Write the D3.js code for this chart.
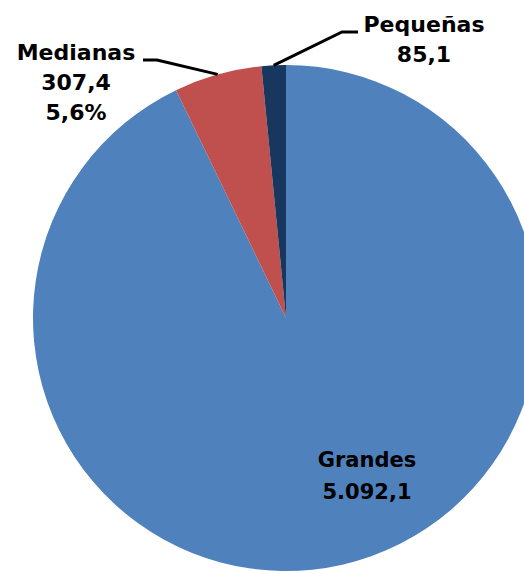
<!DOCTYPE html>
<html><head><meta charset="utf-8">
<script src="https://cdn.jsdelivr.net/npm/d3@7"></script>
<style>html,body{margin:0;padding:0;background:#fff;overflow:hidden}</style>
</head><body>
<svg id="c" width="524" height="572"></svg>
<script>
const categories = ["Grandes", "Medianas", "Pequeñas"];
const values = [5092.1, 307.4, 85.1];
const valueLabels = ["5.092,1", "307,4", "85,1"];
const percentLabels = ["", "5,6%", ""];
const colors = ["#4F81BD", "#C0504D", "#17375E"];

const svg = d3.select("#c");
const cx = 286, cy = 318, R = 253;
const g = svg.append("g").attr("transform", `translate(${cx},${cy})`);

const data = categories.map((c, i) => ({cat: c, value: values[i], vl: valueLabels[i], pl: percentLabels[i], color: colors[i]}));
const pie = d3.pie().value(d => d.value).sort(null);
const arcs = pie(data);
const arc = d3.arc().innerRadius(0).outerRadius(R);

g.selectAll("path").data(arcs).join("path")
  .attr("d", arc).attr("fill", d => d.data.color);

const font = "'DejaVu Sans', Verdana, sans-serif";
function label(lines, x, y, lh, size) {
  const t = svg.append("text").attr("text-anchor", "middle")
    .attr("font-family", font).attr("font-weight", "bold")
    .attr("font-size", size).attr("fill", "#000");
  lines.forEach((l, i) => t.append("tspan").attr("x", x).attr("y", y + i * lh).text(l));
}

// Grandes label inside
const a0 = arcs[0];
label([a0.data.cat, a0.data.vl], 367, 467, 32, 21);

// outer point on slice mid-angle
function outerPt(a) {
  const m = (a.startAngle + a.endAngle) / 2;
  return [cx + R * Math.sin(m), cy - R * Math.cos(m)];
}

// Medianas leader and label
const a1 = arcs[1];
const p1 = outerPt(a1);
svg.append("polyline").attr("points", [p1, [157, 60], [143, 60]].map(p => p.join(",")).join(" "))
  .attr("fill", "none").attr("stroke", "#000").attr("stroke-width", 3);
label([a1.data.cat, a1.data.vl, a1.data.pl], 76, 60, 30, 22);

// Pequeñas leader and label
const a2 = arcs[2];
const p2 = outerPt(a2);
svg.append("polyline").attr("points", [p2, [342, 32], [358, 32]].map(p => p.join(",")).join(" "))
  .attr("fill", "none").attr("stroke", "#000").attr("stroke-width", 3);
label([a2.data.cat, a2.data.vl], 424, 32, 30, 22);
</script>
</body></html>
